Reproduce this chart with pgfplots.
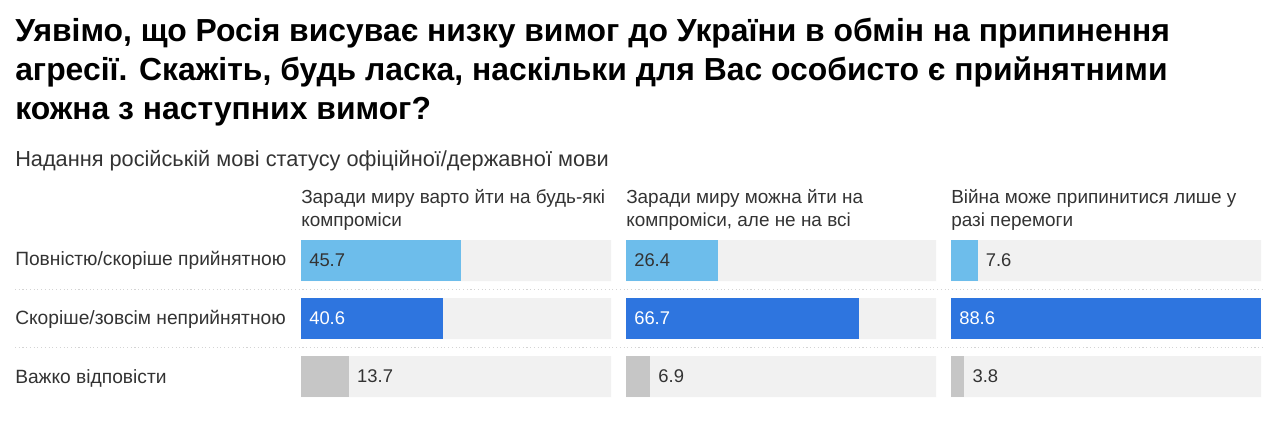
\documentclass[border=0pt]{standalone}
\usepackage{fontspec}
\setmainfont{Liberation Sans}
\usepackage{pgfplots}
\pgfplotsset{compat=1.18}

\definecolor{cLight}{HTML}{6DBDEB}
\definecolor{cDark}{HTML}{2E75DF}
\definecolor{cGray}{HTML}{C6C6C6}
\definecolor{cBg}{HTML}{F1F1F1}
\definecolor{cTxt}{HTML}{333333}
\definecolor{cSep}{HTML}{D4D4D4}

\pgfplotsset{
  panel/.style={
    scale only axis, width=232.5pt, height=130.5pt,
    xmin=0, xmax=88.6, ymin=-0.5, ymax=2.5, y dir=reverse,
    hide axis, clip=false, anchor=north west,
  },
  bgbar/.style={xbar, bar width=30.75pt, bar shift=0pt, fill=cBg, draw=none},
  fgbar/.style={xbar, bar width=30.75pt, bar shift=0pt, fill=#1, draw=none},
  lbl/.style={draw=none, mark=none, nodes near coords, point meta=explicit symbolic,
    every node near coord/.append style={anchor=west, xshift=6pt, text=#1,
      font=\fontsize{13.8}{16}\selectfont, inner sep=0pt}},
}

\begin{document}
\begin{tikzpicture}
\begin{scope}[x=0.75pt, y=-0.75pt]
  \path[fill=white] (0,0) rectangle (1280,427);
  % title
  \begin{scope}[every node/.style={anchor=base west, inner sep=0pt, text=black,
      font=\fontsize{23.9}{28}\selectfont\bfseries}]
    \node at (15,42) {Уявімо, що Росія висуває низку вимог до України в обмін на припинення};
    \node at (15,81) {агресії. Скажіть, будь ласка, наскільки для Вас особисто є прийнятними};
    \node at (15,120) {кожна з наступних вимог?};
  \end{scope}
  \node[anchor=base west, inner sep=0pt, text=cTxt, font=\fontsize{16.3}{19}\selectfont]
    at (15,167) {Надання російській мові статусу офіційної/державної мови};
  % column headers
  \begin{scope}[every node/.style={anchor=base west, inner sep=0pt, text=cTxt,
      font=\fontsize{14.2}{17}\selectfont}]
    \node at (301,204) {Заради миру варто йти на будь-які};
    \node at (301,227) {компроміси};
    \node at (626,204) {Заради миру можна йти на};
    \node at (626,227) {компроміси, але не на всі};
    \node at (951,204) {Війна може припинитися лише у};
    \node at (951,227) {разі перемоги};
  \end{scope}
  % row labels
  \begin{scope}[every node/.style={anchor=base west, inner sep=0pt, text=cTxt,
      font=\fontsize{14.4}{17}\selectfont}]
    \node at (15,266) {Повністю/скоріше прийнятною};
    \node at (15,325) {Скоріше/зовсім неприйнятною};
    \node at (15,383) {Важко відповісти};
  \end{scope}
  % separators
  \draw[cSep, line width=0.8pt, dotted] (15,289.5) -- (1265,289.5);
  \draw[cSep, line width=0.8pt, dotted] (15,347.5) -- (1265,347.5);
\end{scope}

% panel 1
\begin{axis}[panel, at={(301*0.75pt,-231.5*0.75pt)}]
  \addplot[bgbar] coordinates {(88.6,0) (88.6,1) (88.6,2)};
  \addplot[fgbar=cLight] coordinates {(45.7,0)};
  \addplot[fgbar=cDark] coordinates {(40.6,1)};
  \addplot[fgbar=cGray] coordinates {(13.7,2)};
  \addplot[lbl=cTxt] coordinates {(0,0) [45.7] (13.7,2) [13.7]};
  \addplot[lbl=white] coordinates {(0,1) [40.6]};
\end{axis}

% panel 2
\begin{axis}[panel, at={(626*0.75pt,-231.5*0.75pt)}]
  \addplot[bgbar] coordinates {(88.6,0) (88.6,1) (88.6,2)};
  \addplot[fgbar=cLight] coordinates {(26.4,0)};
  \addplot[fgbar=cDark] coordinates {(66.7,1)};
  \addplot[fgbar=cGray] coordinates {(6.9,2)};
  \addplot[lbl=cTxt] coordinates {(0,0) [26.4] (6.9,2) [6.9]};
  \addplot[lbl=white] coordinates {(0,1) [66.7]};
\end{axis}

% panel 3
\begin{axis}[panel, at={(951*0.75pt,-231.5*0.75pt)}]
  \addplot[bgbar] coordinates {(88.6,0) (88.6,1) (88.6,2)};
  \addplot[fgbar=cLight] coordinates {(7.6,0)};
  \addplot[fgbar=cDark] coordinates {(88.6,1)};
  \addplot[fgbar=cGray] coordinates {(3.8,2)};
  \addplot[lbl=cTxt] coordinates {(7.6,0) [7.6] (3.8,2) [3.8]};
  \addplot[lbl=white] coordinates {(0,1) [88.6]};
\end{axis}
\end{tikzpicture}
\end{document}
